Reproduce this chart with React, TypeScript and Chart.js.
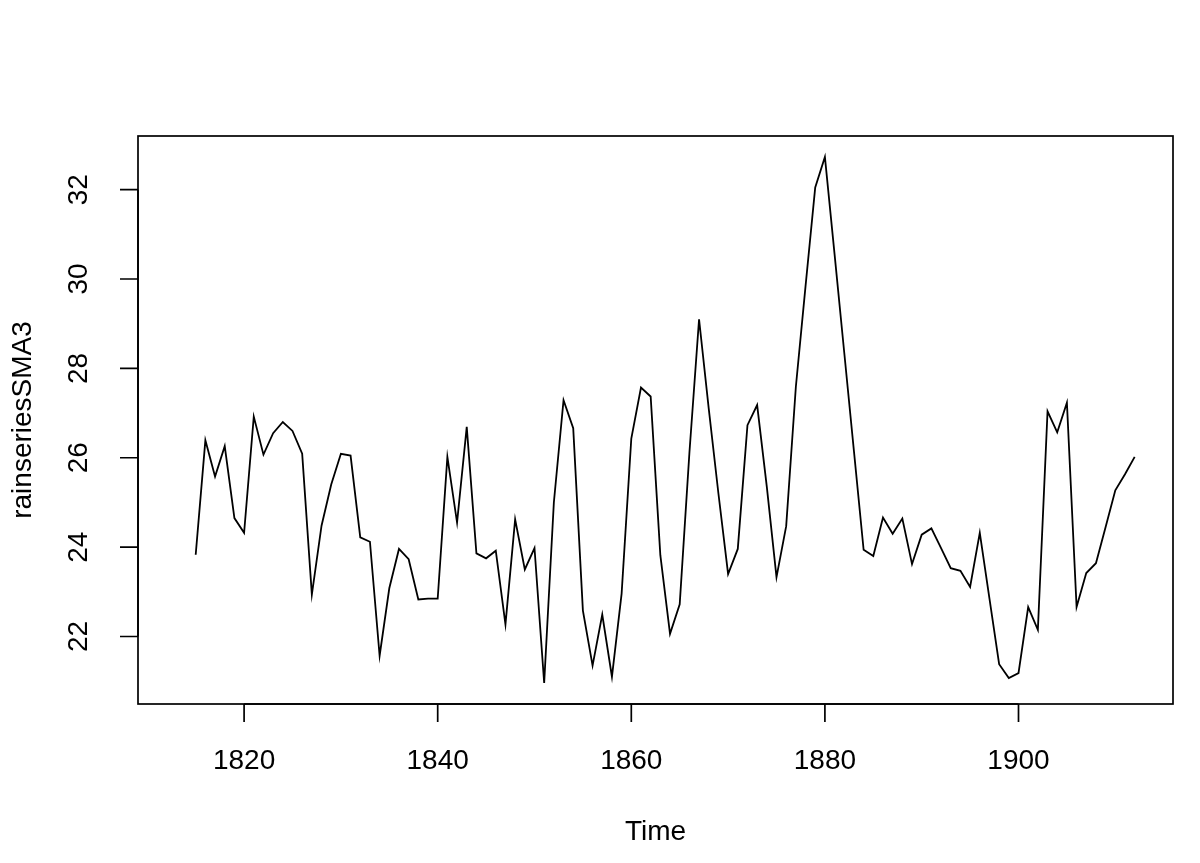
import React, { useEffect, useRef } from "react";
import { Chart, registerables } from "chart.js";

Chart.register(...registerables);

// Series starts in 1813; the 3-year SMA is undefined for the first two years.
const FIRST_YEAR = 1813;

const rainSMA3: (number | null)[] = [
  null, null,
  23.83, 26.39, 25.58, 26.26, 24.65, 24.32, 26.92, 26.07, 26.55, 26.80,
  26.60, 26.09, 22.94, 24.48, 25.40, 26.09, 26.05, 24.22, 24.12, 21.57,
  23.08, 23.96, 23.73, 22.83, 22.85, 22.85, 26.02, 24.55, 26.69, 23.86,
  23.75, 23.92, 22.27, 24.62, 23.50, 23.98, 20.96, 25.00, 27.29, 26.66,
  22.58, 21.35, 22.49, 21.10, 22.96, 26.43, 27.57, 27.37, 23.82, 22.06,
  22.72, 26.10, 29.10, 27.10, 25.20, 23.40, 23.96, 26.73, 27.18, 25.35,
  23.33, 24.47, 27.59, 29.84, 32.05, 32.73, 30.55, 28.35, 26.15, 23.94,
  23.80, 24.66, 24.30, 24.64, 23.62, 24.28, 24.42, 23.98, 23.53, 23.47,
  23.11, 24.32, 22.85, 21.38, 21.07, 21.18, 22.66, 22.15, 27.04, 26.57,
  27.23, 22.66, 23.42, 23.64, 24.45, 25.27, 25.63, 26.02,
];

const xTickValues = [1820, 1840, 1860, 1880, 1900];
const yTickValues = [22, 24, 26, 28, 30, 32];
const xTitle = "Time";
const yTitle = "rainseriesSMA3";

const FONT = '"Liberation Sans", Arial, sans-serif';

const rFramePlugin = {
  id: "rFrame",
  afterDraw(chart: any) {
    const { ctx, chartArea: a, scales } = chart;
    const xs = scales.x;
    const ys = scales.y;
    ctx.save();
    ctx.strokeStyle = "#000";
    ctx.fillStyle = "#000";
    ctx.lineWidth = 1.7;
    ctx.strokeRect(a.left, a.top, a.right - a.left, a.bottom - a.top);

    const tickLen = 18;
    ctx.font = `28px ${FONT}`;

    // x axis
    ctx.beginPath();
    const x0 = xs.getPixelForValue(xTickValues[0]);
    const x1 = xs.getPixelForValue(xTickValues[xTickValues.length - 1]);
    ctx.moveTo(x0, a.bottom);
    ctx.lineTo(x1, a.bottom);
    xTickValues.forEach((v) => {
      const px = xs.getPixelForValue(v);
      ctx.moveTo(px, a.bottom);
      ctx.lineTo(px, a.bottom + tickLen);
    });
    ctx.stroke();
    ctx.textAlign = "center";
    ctx.textBaseline = "alphabetic";
    xTickValues.forEach((v) => {
      ctx.fillText(String(v), xs.getPixelForValue(v), 769);
    });
    ctx.fillText(xTitle, (a.left + a.right) / 2, 840);

    // y axis
    ctx.beginPath();
    const y0 = ys.getPixelForValue(yTickValues[0]);
    const y1 = ys.getPixelForValue(yTickValues[yTickValues.length - 1]);
    ctx.moveTo(a.left, y0);
    ctx.lineTo(a.left, y1);
    yTickValues.forEach((v) => {
      const py = ys.getPixelForValue(v);
      ctx.moveTo(a.left, py);
      ctx.lineTo(a.left - tickLen, py);
    });
    ctx.stroke();
    yTickValues.forEach((v) => {
      const py = ys.getPixelForValue(v);
      ctx.save();
      ctx.translate(87, py);
      ctx.rotate(-Math.PI / 2);
      ctx.textAlign = "center";
      ctx.textBaseline = "alphabetic";
      ctx.fillText(String(v), 0, 0);
      ctx.restore();
    });
    ctx.save();
    ctx.translate(31, (a.top + a.bottom) / 2);
    ctx.rotate(-Math.PI / 2);
    ctx.textAlign = "center";
    ctx.textBaseline = "alphabetic";
    ctx.fillText(yTitle, 0, 0);
    ctx.restore();

    ctx.restore();
  },
};

export default function App() {
  const ref = useRef<HTMLCanvasElement | null>(null);

  useEffect(() => {
    document.body.style.margin = "0";
    document.body.style.background = "#fff";
    const canvas = ref.current;
    if (!canvas) return;
    const points = rainSMA3.map((v, i) => ({ x: FIRST_YEAR + i, y: v }));
    const chart = new Chart(canvas, {
      type: "line",
      data: {
        datasets: [
          {
            label: yTitle,
            data: points as any,
            borderColor: "#000",
            borderWidth: 1.8,
            pointRadius: 0,
            tension: 0,
            fill: false,
            spanGaps: false,
          },
        ],
      },
      options: {
        responsive: false,
        animation: false,
        events: [],
        layout: { padding: { left: 138, top: 136, right: 27, bottom: 159 } },
        plugins: {
          legend: { display: false },
          tooltip: { enabled: false },
        },
        scales: {
          x: {
            type: "linear",
            min: 1809.04,
            max: 1915.96,
            display: false,
          },
          y: {
            type: "linear",
            min: 20.49,
            max: 33.2,
            display: false,
          },
        },
      },
      plugins: [rFramePlugin],
    });
    return () => chart.destroy();
  }, []);

  return (
    <div style={{ width: 1200, height: 863, background: "#fff" }}>
      <canvas ref={ref} width={1200} height={863} style={{ display: "block" }} />
    </div>
  );
}
